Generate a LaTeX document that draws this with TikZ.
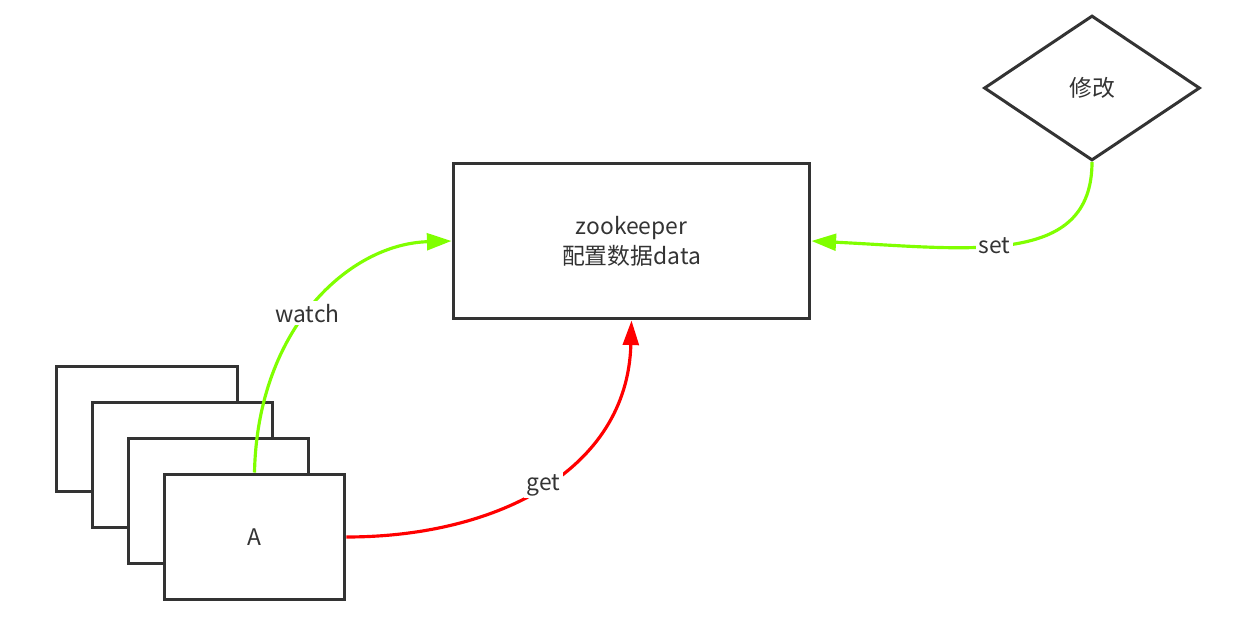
\documentclass[tikz,border=0pt]{standalone}
\usepackage{fontspec}
\setmainfont{Noto Sans CJK SC}
\usetikzlibrary{arrows.meta, positioning, shapes.geometric}
\definecolor{boxgray}{RGB}{51,51,51}
\definecolor{watchgreen}{RGB}{128,255,0}
\definecolor{getred}{RGB}{255,0,0}

\begin{document}
\begin{tikzpicture}[x=0.02cm, y=-0.02cm,
    font=\fontsize{13}{17}\selectfont, text=boxgray,
    panel/.style={draw=boxgray, line width=1.7pt, fill=white, minimum width=3.62cm, minimum height=2.52cm, inner sep=0pt},
    greenline/.style={draw=watchgreen, line width=1.8pt, -{Triangle[length=14pt, width=9.5pt]}},
    redline/.style={draw=getred, line width=1.8pt, -{Triangle[length=14pt, width=9pt]}},
    tag/.style={fill=white, inner sep=1.5pt}]
\useasboundingbox (0,0) rectangle (1242,624);

% === client stack ===
\node[panel] (c1) at (147,429) {};
\node[panel] (c2) at (182.5,465) {};
\node[panel] (c3) at (218.5,501) {};
\node[panel] (a) at (254.5,537) {A};

% === zookeeper ===
\node[draw=boxgray, line width=1.7pt, minimum width=7.14cm, minimum height=3.12cm, align=center] (cfg) at (631.5,241) {zookeeper\\配置数据data};

% === modify ===
\node[diamond, draw=boxgray, line width=1.7pt, minimum width=4.32cm, minimum height=2.9cm, inner sep=0pt] (mod) at (1092,88) {修改};

% connectors
\draw[greenline] (a.north) .. controls +(3,-145) and +(-102,3) .. (cfg.west) node[tag, pos=0.46] {watch};
\draw[redline] (a.east) .. controls +(150,0) and +(-4,150) .. (cfg.south) node[tag, pos=0.5] {get};
\draw[greenline] (mod.south) .. controls +(0,105) and +(160,8) .. (cfg.east) node[tag, pos=0.555] {set};

\end{tikzpicture}
\end{document}
